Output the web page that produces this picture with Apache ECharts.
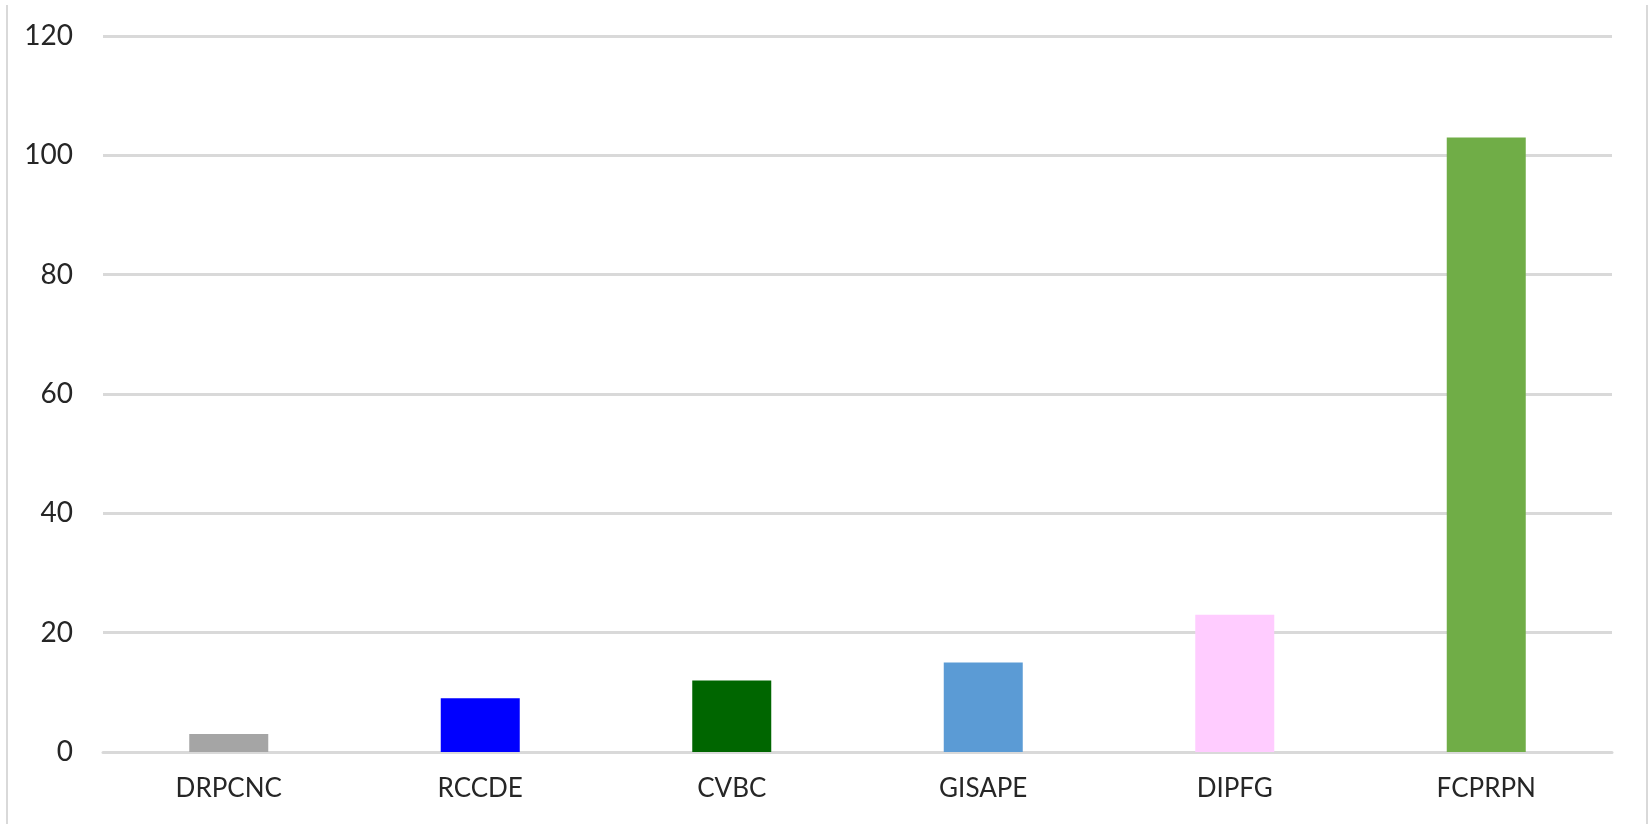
<!DOCTYPE html>
<html>
<head>
<meta charset="utf-8">
<script src="https://cdn.jsdelivr.net/npm/echarts@6/dist/echarts.min.js"></script>
<style>
	html, body { margin: 0; padding: 0; background: #fff; }
	#chart { width: 1650px; height: 824px; }
</style>
</head>
<body>
<div id="chart"></div>
<script>
// data
var categories = ["DRPCNC", "RCCDE", "CVBC", "GISAPE", "DIPFG", "FCPRPN"];
var values = [3, 9, 12, 15, 23, 103];
var barColors = ["#a5a5a5", "#0000ff", "#006600", "#5b9bd5", "#ffccff", "#70ad47"];

var myChart = echarts.init(document.getElementById("chart"));

var option = {
	animation: false,
	grid: {
		left: 103,
		right: 38,
		top: 36,
		bottom: 72
	},
	graphic: [
		{ type: "rect", shape: { x: 6, y: 5, width: 2, height: 830 }, style: { fill: "#d9d9d9" } },
		{ type: "rect", shape: { x: 1646, y: 5, width: 2, height: 830 }, style: { fill: "#d9d9d9" } }
	],
	xAxis: {
		type: "category",
		data: categories,
		axisLine: {
			show: true,
			lineStyle: { color: "#d9d9d9", width: 3 }
		},
		axisTick: { show: false },
		axisLabel: {
			color: "#262626",
			fontFamily: "Lato",
			fontSize: 26,
			margin: 24
		}
	},
	yAxis: {
		type: "value",
		min: 0,
		max: 120,
		interval: 20,
		axisLine: { show: false },
		axisTick: { show: false },
		splitLine: {
			show: true,
			lineStyle: { color: "#d9d9d9", width: 3 }
		},
		axisLabel: {
			color: "#262626",
			fontFamily: "Lato",
			fontSize: 28,
			margin: 30
		}
	},
	series: [{
		type: "bar",
		barWidth: 79,
		data: values.map(function (v, i) {
			return { value: v, itemStyle: { color: barColors[i] } };
		})
	}]
};

myChart.setOption(option);
</script>
</body>
</html>
